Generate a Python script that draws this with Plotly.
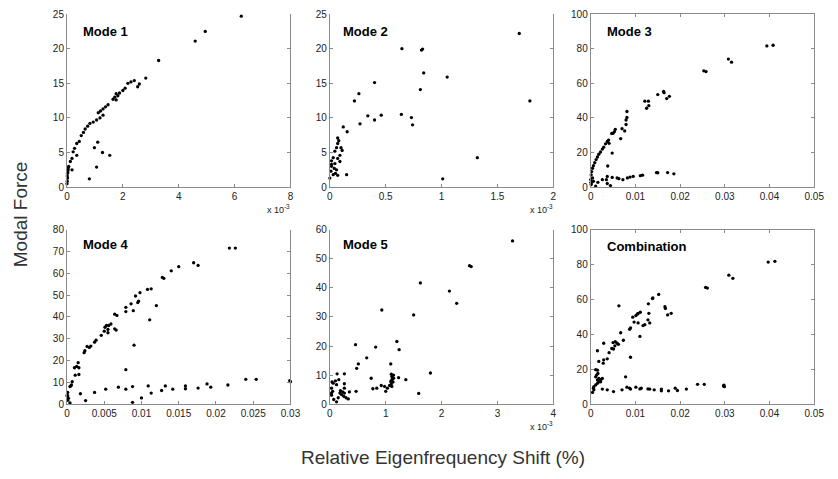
import plotly.graph_objects as go

# ---------------- data ----------------
m1_x = [6.24, 4.95, 4.59, 3.28, 2.82, 2.59, 2.53, 2.41, 2.29, 2.18, 2.08, 2.00, 1.88, 1.82, 1.76, 1.71,
        1.65, 1.76, 1.47, 1.38, 1.29, 1.20, 1.12, 1.29, 1.18, 1.06, 0.94, 0.82, 0.74, 0.65, 0.59, 0.51,
        0.44, 0.35, 0.27, 0.22, 0.35, 0.18, 0.12, 0.06, 0.04, 0.02, 0.01, 0.01, 0.00, 0.18, 0.02, 0.03,
        0.05, 1.10, 0.98, 1.27, 1.53, 1.06, 0.80]
m1_y = [24.7, 22.5, 21.1, 18.3, 15.75, 14.9, 14.5, 15.4, 15.2, 15.0, 14.3, 13.96, 13.6, 13.2, 13.5, 13.0,
        12.7, 12.6, 11.9, 11.6, 11.3, 11.0, 10.75, 10.4, 10.0, 9.7, 9.4, 9.2, 8.8, 8.4, 7.9, 7.45,
        6.6, 6.3, 5.6, 5.1, 4.6, 4.15, 3.7, 3.0, 2.5, 2.0, 1.6, 0.85, 0.5, 2.5, 1.3, 2.2,
        2.8, 6.5, 5.7, 5.0, 4.6, 2.9, 1.2]

m2_x = [1.695, 1.79, 1.32, 1.01, 1.05, 0.84, 0.83, 0.82, 0.645, 0.81, 0.40, 0.26, 0.22, 0.64, 0.73, 0.74,
        0.34, 0.46, 0.40, 0.27, 0.12, 0.155, 0.15,
        0.07, 0.08, 0.07, 0.06, 0.10, 0.11, 0.045, 0.09, 0.03, 0.07, 0.015, 0.045, 0.015, 0.04, 0.06,
        0.01, 0.03, 0.07, 0.00, 0.05, 0.09, 0.015]
m2_y = [22.2, 12.45, 4.25, 1.2, 15.9, 16.5, 19.95, 19.8, 20.0, 14.1, 15.1, 13.5, 12.45, 10.5, 10.05, 9.0,
        10.3, 10.4, 9.7, 9.15, 8.7, 8.0, 1.8,
        7.1, 6.7, 6.3, 5.7, 5.7, 5.3, 5.2, 4.6, 4.25, 4.15, 3.8, 3.4, 3.0, 2.7, 2.5,
        2.3, 1.8, 1.7, 1.3, 2.0, 3.7, 3.3]

m3_x = [0.0394, 0.0408, 0.0308, 0.0315, 0.0253, 0.0258, 0.0176, 0.0170, 0.0163, 0.0164, 0.0150,
        0.0129, 0.0130, 0.0125, 0.0121, 0.0081, 0.0081, 0.0079, 0.0079, 0.0076, 0.0070, 0.0067,
        0.0055, 0.0053, 0.0050, 0.0047, 0.0040, 0.0037, 0.0033, 0.0029, 0.0026, 0.0022, 0.0018,
        0.0015, 0.0012, 0.0009, 0.0006, 0.0004, 0.0002, 0.0001, 0.0000, 0.0001, 0.0001, 0.0041,
        0.0048, 0.0038,
        0.0172, 0.0186, 0.0147, 0.0150, 0.0116, 0.0111, 0.0095, 0.0088, 0.0082, 0.0072, 0.0063,
        0.0059, 0.0048, 0.0037, 0.0035, 0.0026, 0.0016, 0.0037, 0.0044, 0.0011, 0.0006, 0.0004, 0.0001]
m3_y = [81.6, 82.0, 74.0, 72.2, 67.2, 66.8, 52.5, 51.2, 55.3, 54.6, 53.5,
        49.7, 47.1, 45.6, 49.7, 43.7, 40.3, 38.8, 36.2, 32.5, 33.8, 28.0,
        33.4, 32.1, 31.1, 31.0, 27.2, 26.4, 25.0, 23.1, 22.0, 20.3, 19.0,
        17.4, 15.9, 14.1, 12.4, 10.9, 9.0, 7.1, 4.3, 2.8, 1.5, 25.3,
        19.7, 12.2,
        8.4, 7.7, 8.4, 8.3, 6.9, 6.6, 6.2, 5.8, 5.3, 4.3, 4.9,
        5.3, 5.6, 6.2, 4.3, 4.3, 2.8, 2.1, 0.9, 0.6, 3.4, 5.3, 2.4]

m4_x = [0.0218, 0.0226, 0.0170, 0.0176, 0.0150, 0.0140, 0.0130, 0.0128, 0.0113, 0.0108, 0.0120,
        0.0111, 0.0098, 0.0092, 0.0096, 0.0095, 0.0086, 0.0089, 0.0079, 0.0079, 0.0064, 0.0067,
        0.0064, 0.0066, 0.0059, 0.0056, 0.0053, 0.0051, 0.0055, 0.0050, 0.0055, 0.0046, 0.0039,
        0.0037, 0.0032, 0.0030, 0.0027, 0.0024, 0.0023, 0.0015, 0.0013, 0.0010, 0.0016, 0.0016,
        0.0011, 0.0007, 0.0006, 0.0004, 0.0001, 0.0001, 0.0002, 0.0001, 0.0004, 0.0000, 0.0005,
        0.0090, 0.0079,
        0.0018, 0.0025, 0.0037, 0.0052, 0.0069, 0.0079, 0.0088, 0.0088, 0.0100, 0.0109, 0.0113,
        0.0127, 0.0132, 0.0142, 0.0159, 0.0159, 0.0176, 0.0188, 0.0193, 0.0216, 0.0240, 0.0254,
        0.0299, 0.0300]
m4_y = [71.5, 71.5, 64.8, 63.6, 63.0, 61.1, 57.7, 58.1, 52.9, 52.6, 45.2,
        38.7, 51.1, 49.6, 47.2, 46.6, 46.0, 42.9, 44.4, 42.5, 41.3, 40.7,
        34.6, 34.0, 36.8, 36.1, 36.1, 35.3, 34.3, 33.5, 32.8, 31.6, 29.4,
        28.5, 26.7, 26.1, 26.5, 24.6, 23.7, 19.1, 17.4, 16.8, 16.8, 13.7,
        13.4, 10.4, 8.9, 8.2, 5.5, 4.0, 2.8, 1.9, 0.7, 4.0, 8.5,
        27.1, 15.9,
        4.9, 1.8, 5.5, 7.0, 7.9, 7.0, 8.2, 1.0, 3.0, 8.5, 5.2,
        6.4, 8.5, 7.0, 8.5, 7.2, 7.5, 9.4, 7.9, 8.9, 11.5, 11.5,
        10.9, 10.4]

m5_x = [3.27, 2.50, 2.53, 2.14, 2.27, 1.62, 1.50, 0.93, 1.20, 1.24, 0.46, 0.82, 0.66, 0.51, 0.48,
        1.09, 1.80, 1.59, 1.36, 0.74, 1.23,
        1.11, 1.14, 1.11, 1.09, 1.13, 1.10, 1.07, 1.11, 1.03, 0.98, 0.92, 0.84, 0.77, 1.00, 1.14, 1.10,
        0.47, 0.35, 0.26,
        0.13, 0.26, 0.16, 0.10, 0.04, 0.06, 0.26, 0.03, 0.05, 0.03, 0.07, 0.12, 0.18, 0.21, 0.23,
        0.25, 0.29, 0.33, 0.15, 0.19, 0.26, 0.12, 0.03]
m5_y = [56.1, 47.6, 47.3, 38.9, 34.7, 41.7, 30.7, 32.4, 21.6, 18.8, 20.5, 19.7, 16.0, 13.9, 12.4,
        13.9, 10.8, 3.8, 8.5, 9.0, 9.2,
        9.6, 9.0, 8.5, 7.9, 7.7, 7.0, 6.5, 6.2, 5.6, 6.2, 6.5, 5.6, 5.4, 4.5, 10.1, 10.4,
        4.5, 4.3, 3.9,
        10.5, 10.5, 8.5, 8.1, 7.7, 7.3, 7.1, 5.6, 4.5, 3.2, 1.7, 0.9, 3.9, 3.4, 4.3,
        2.8, 2.3, 1.9, 2.3, 4.7, 5.6, 6.8, 3.9]

m6_x = [0.0397, 0.0412, 0.0309, 0.0318, 0.0257, 0.0261, 0.0180, 0.0172, 0.0166, 0.0167,
        0.0152, 0.0139, 0.0138, 0.0129, 0.0130, 0.0132, 0.0128, 0.0121, 0.0117, 0.0110,
        0.0111, 0.0106, 0.0104, 0.0101, 0.0094, 0.0097, 0.0106, 0.0089, 0.0087,
        0.0063, 0.0073, 0.0067, 0.0062, 0.0059, 0.0055, 0.0050, 0.0054, 0.0051, 0.0047, 0.0041,
        0.0037, 0.0029, 0.0028, 0.0018, 0.0029, 0.0015, 0.0089, 0.0078,
        0.0011, 0.0015, 0.0016, 0.0013, 0.0018, 0.0023, 0.0026, 0.0015, 0.0018, 0.0015, 0.0011,
        0.0007, 0.0006, 0.0007, 0.0004, 0.0022, 0.0011,
        0.0026, 0.0037, 0.0051, 0.0070, 0.0081, 0.0087, 0.0089, 0.0101, 0.0110, 0.0113, 0.0128,
        0.0132, 0.0142, 0.0158, 0.0158, 0.0174, 0.0189, 0.0194, 0.0214, 0.0239, 0.0254, 0.0297,
        0.0299, 0.0298]
m6_y = [81.4, 81.8, 73.9, 72.1, 66.9, 66.5, 52.1, 51.2, 55.9, 54.9,
        62.9, 60.9, 60.5, 57.5, 52.1, 46.6, 48.4, 45.6, 45.1, 38.9,
        52.7, 52.0, 51.6, 50.8, 49.9, 47.1, 46.6, 43.8, 43.0,
        56.4, 36.7, 41.0, 34.4, 35.0, 35.9, 35.4, 33.5, 31.7, 32.0, 29.6,
        26.1, 25.5, 23.6, 24.6, 35.0, 30.7, 27.0, 15.8,
        19.9, 19.6, 17.7, 16.8, 14.9, 14.3, 14.9, 14.0, 13.0, 12.1, 11.2,
        10.2, 9.3, 8.4, 6.9, 13.0, 15.8,
        8.8, 8.4, 7.4, 8.4, 9.9, 9.3, 8.8, 9.9, 8.9, 9.3, 8.9,
        8.8, 8.4, 8.8, 7.8, 7.8, 9.3, 8.0, 8.8, 11.5, 11.5, 10.6,
        10.2, 11.0]

titles = ["Mode 1", "Mode 2", "Mode 3", "Mode 4", "Mode 5", "Combination"]
xs = [m1_x, m2_x, m3_x, m4_x, m5_x, m6_x]
ys = [m1_y, m2_y, m3_y, m4_y, m5_y, m6_y]

x_ranges = [[0, 8], [0, 2], [0, 0.05], [0, 0.03], [0, 4], [0, 0.05]]
y_ranges = [[0, 25], [0, 25], [0, 100], [0, 80], [0, 60], [0, 100]]
x_ticks = [[0, 2, 4, 6, 8], [0, 0.5, 1, 1.5, 2], [0, 0.01, 0.02, 0.03, 0.04, 0.05],
           [0, 0.005, 0.01, 0.015, 0.02, 0.025, 0.03], [0, 1, 2, 3, 4], [0, 0.01, 0.02, 0.03, 0.04, 0.05]]
x_ticklabels = [["0", "2", "4", "6", "8"], ["0", "0.5", "1", "1.5", "2"],
                ["0", "0.01", "0.02", "0.03", "0.04", "0.05"],
                ["0", "0.005", "0.01", "0.015", "0.02", "0.025", "0.03"],
                ["0", "1", "2", "3", "4"], ["0", "0.01", "0.02", "0.03", "0.04", "0.05"]]
y_dticks = [5, 5, 20, 10, 10, 20]
has_exp = [True, True, False, False, True, False]

# ---------------- layout geometry ----------------
W, H = 838, 479
col_px = [(65, 292), (332, 559), (597, 824)]
row_px = [(9.3, 186), (229.3, 408)]
title_pos = [(0.062, 0.90), (0.048, 0.90), (0.062, 0.90), (0.062, 0.912), (0.048, 0.912), (0.062, 0.905)]

FONT = "Liberation Sans, Arial, sans-serif"
AX_COL = "#8a8a8a"

fig = go.Figure()
layout = dict(
    width=W, height=H, margin=dict(l=0, r=0, t=0, b=0),
    paper_bgcolor="white", plot_bgcolor="white", showlegend=False,
    font=dict(family=FONT, color="#222222", size=10),
)
annotations = []

for i in range(6):
    r, c = divmod(i, 3)
    n = i + 1
    xa = "xaxis" if n == 1 else f"xaxis{n}"
    ya = "yaxis" if n == 1 else f"yaxis{n}"
    xref = "x" if n == 1 else f"x{n}"
    yref = "y" if n == 1 else f"y{n}"
    x0, x1 = col_px[c]
    y0, y1 = row_px[r]
    layout[xa] = dict(
        domain=[x0 / W, x1 / W], anchor=yref, range=x_ranges[i],
        tickmode="array", tickvals=x_ticks[i], ticktext=x_ticklabels[i],
        showgrid=False, zeroline=False, showline=True, linecolor=AX_COL, linewidth=1,
        mirror=("ticks" if i in (2, 5) else False),
        ticks="inside", ticklen=3, tickcolor=AX_COL, tickfont=dict(size=10, color="#222222"),
    )
    layout[ya] = dict(
        domain=[1 - y1 / H, 1 - y0 / H], anchor=xref, range=y_ranges[i],
        tick0=0, dtick=y_dticks[i],
        showgrid=False, zeroline=False, showline=True, linecolor=AX_COL, linewidth=1,
        mirror="ticks", ticks="inside", ticklen=3, tickcolor=AX_COL,
        tickfont=dict(size=10, color="#222222"),
    )
    fig.add_trace(go.Scatter(
        x=xs[i], y=ys[i], mode="markers", xaxis=xref, yaxis=yref,
        marker=dict(color="black", size=3.3, line=dict(width=0)), cliponaxis=False,
        hoverinfo="skip",
    ))
    tx, ty = title_pos[i]
    annotations.append(dict(
        text=f"<b>{titles[i]}</b>", xref=f"{xref} domain", yref=f"{yref} domain",
        x=tx, y=ty, xanchor="left", yanchor="middle", showarrow=False,
        font=dict(family=FONT, size=13, color="black"),
    ))
    if has_exp[i]:
        annotations.append(dict(
            text="x 10<sup>-3</sup>", xref=f"{xref} domain", yref=f"{yref} domain",
            x=1.0, y=0, yshift=-14, xshift=2, xanchor="right", yanchor="top", showarrow=False,
            font=dict(family=FONT, size=9, color="#222222"),
        ))

annotations.append(dict(
    text="Modal Force", xref="paper", yref="paper", x=18 / W, y=1 - 214 / H,
    textangle=-90, showarrow=False, xanchor="center", yanchor="middle",
    font=dict(family=FONT, size=19, color="#333333"),
))
annotations.append(dict(
    text="Relative Eigenfrequency Shift (%)", xref="paper", yref="paper", x=447 / W, y=1 - 462 / H,
    showarrow=False, xanchor="center", yanchor="middle",
    font=dict(family=FONT, size=19, color="#333333"),
))
layout["annotations"] = annotations
fig.update_layout(**layout)
fig.write_html("out.html")
